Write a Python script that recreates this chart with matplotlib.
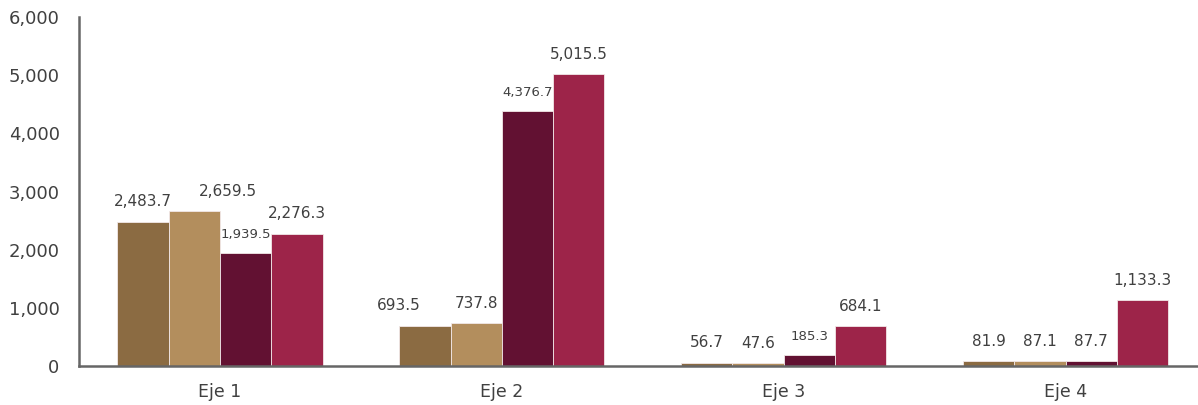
import numpy as np
import matplotlib.pyplot as plt
from matplotlib.ticker import FuncFormatter

plt.rcParams['font.family'] = ['DejaVu Sans']

categories = ['Eje 1', 'Eje 2', 'Eje 3', 'Eje 4']
serie_1 = [2483.7, 693.5, 56.7, 81.9]
serie_2 = [2659.5, 737.8, 47.6, 87.1]
serie_3 = [1939.5, 4376.7, 185.3, 87.7]
serie_4 = [2276.3, 5015.5, 684.1, 1133.3]
yticks = [0, 1000, 2000, 3000, 4000, 5000, 6000]

series = [serie_1, serie_2, serie_3, serie_4]
colors = ['#8B6B42', '#B38E5D', '#621132', '#9D2449']
# labels drawn smaller in the original (they sit close to neighbours)
small = {(0, 2), (1, 2), (2, 2)}
# labels nudged sideways in the original, (group, series): points
nudge = {(0, 1): 24, (1, 0): -19}

fig = plt.figure(figsize=(11.98, 4.05), dpi=100)
ax = fig.add_axes([0.066, 0.096, 0.934, 0.862])

x = np.arange(len(categories))
w = 0.182
for i, (vals, c) in enumerate(zip(series, colors)):
    pos = x + (i - 1.5) * w
    bars = ax.bar(pos, vals, width=w, color=c, edgecolor='#f2e8e8', linewidth=0.6, zorder=2)
    for j, b in enumerate(bars):
        fs = 9.5 if (j, i) in small else 11
        dx = nudge.get((j, i), 0)
        ax.annotate(f'{vals[j]:,.1f}', (b.get_x() + b.get_width() / 2, b.get_height()),
                    xytext=(dx, 9), textcoords='offset points', ha='center', va='bottom',
                    fontsize=fs, color='#404040')

ax.set_xlim(-0.5, 3.47)
ax.set_ylim(0, 6000)
ax.set_yticks(yticks)
ax.yaxis.set_major_formatter(FuncFormatter(lambda v, p: f'{v:,.0f}'))
ax.set_xticks(x)
ax.set_xticklabels(categories)
ax.tick_params(length=0, labelsize=13, colors='#404040')
ax.tick_params(axis='x', pad=12, labelsize=12.5)
ax.tick_params(axis='y', pad=14)
for s in ['top', 'right']:
    ax.spines[s].set_visible(False)
for s in ['left', 'bottom']:
    ax.spines[s].set_color('#666666')
    ax.spines[s].set_linewidth(1.8)

fig.savefig('out.png', dpi=100)
